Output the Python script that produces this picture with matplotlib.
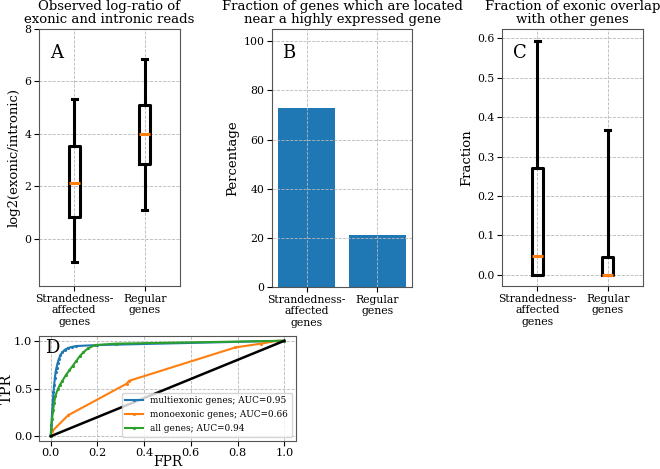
import numpy as np
import matplotlib
matplotlib.use("Agg")
import matplotlib.pyplot as plt

plt.rcParams['font.family'] = ['DejaVu Serif']

# --- data ---
groups = ['Strandedness-\naffected\ngenes', 'Regular\ngenes']

# panel A: log2(exonic/intronic) box stats (whislo, q1, med, q3, whishi)
ratio_stats = [[-0.87, 0.85, 2.13, 3.53, 5.33],
               [1.10, 2.85, 4.00, 5.10, 6.87]]

# panel B: percentage near a highly expressed gene
near_pct = [73.0, 21.0]

# panel C: fraction exonic overlap box stats
overlap_stats = [[0.0, 0.0, 0.048, 0.272, 0.592],
                 [0.0, 0.0, 0.0, 0.045, 0.366]]

# panel D: ROC curves
multi_fpr = [0.0, 0.003, 0.006, 0.009, 0.012, 0.015, 0.018, 0.021, 0.025, 0.03, 0.035,
             0.042, 0.05, 0.06, 0.075, 0.09, 0.11, 0.2, 1.0]
multi_tpr = [0.0, 0.12, 0.25, 0.36, 0.46, 0.54, 0.61, 0.67, 0.72, 0.77, 0.81,
             0.85, 0.88, 0.905, 0.925, 0.935, 0.945, 0.955, 1.0]
mono_fpr = [0.0, 0.005, 0.075, 0.325, 0.335, 0.79, 0.9, 0.97, 1.0]
mono_tpr = [0.0, 0.05, 0.22, 0.55, 0.58, 0.93, 0.97, 1.0, 1.0]
all_fpr = [0.0, 0.003, 0.006, 0.01, 0.015, 0.02, 0.03, 0.04, 0.05, 0.065, 0.08, 0.095,
           0.11, 0.125, 0.14, 0.16, 0.19, 0.28, 1.0]
all_tpr = [0.0, 0.08, 0.18, 0.27, 0.35, 0.42, 0.49, 0.54, 0.58, 0.64, 0.69, 0.74,
           0.79, 0.84, 0.88, 0.92, 0.955, 0.97, 1.0]
roc_labels = ['multiexonic genes; AUC=0.95', 'monoexonic genes; AUC=0.66', 'all genes; AUC=0.94']


def box_stats(rows):
    out = []
    for lo, q1, med, q3, hi in rows:
        out.append(dict(whislo=lo, q1=q1, med=med, q3=q3, whishi=hi, fliers=[]))
    return out


def draw_box(ax, rows):
    ax.bxp(box_stats(rows), positions=[1, 2], widths=0.15,
           boxprops=dict(color='black', linewidth=2.2),
           whiskerprops=dict(color='black', linewidth=2.2),
           capprops=dict(color='black', linewidth=2.2),
           medianprops=dict(color='#ff7f0e', linewidth=2.2))
    ax.set_xticks([1, 2])
    ax.set_xticklabels(groups)


def style(ax, size=7.8):
    ax.grid(True, linestyle='--', color='#b8b8b8', linewidth=0.6)
    ax.set_axisbelow(True)
    for s in ax.spines.values():
        s.set_color('#555555')
    ax.tick_params(labelsize=size, pad=2)


W, H = 660, 469
fig = plt.figure(figsize=(W / 100, H / 100), dpi=100)


def px_axes(l, t, r, b):
    return fig.add_axes([l / W, 1 - b / H, (r - l) / W, (b - t) / H])


TS = 9.5   # title size
LS = 9.5   # y label size
PS = 13    # panel letter size

# A
axA = px_axes(39, 29, 180, 286)
draw_box(axA, ratio_stats)
axA.set_ylim(-1.8, 8)
axA.set_yticks([0, 2, 4, 6, 8])
axA.set_xlim(0.5, 2.5)
axA.set_ylabel('log2(exonic/intronic)', fontsize=LS, labelpad=3)
axA.set_title('Observed log-ratio of\nexonic and intronic reads', fontsize=TS,
              linespacing=1.0, pad=4)
axA.text(0.08, 0.94, 'A', transform=axA.transAxes, fontsize=PS, va='top')
style(axA)

# B
axB = px_axes(272, 29, 412, 287)
axB.bar([0, 1], near_pct, width=0.8, color='#1f77b4')
axB.set_xticks([0, 1])
axB.set_xticklabels(groups)
axB.set_ylim(0, 105)
axB.set_ylabel('Percentage', fontsize=LS, labelpad=3)
axB.set_title('Fraction of genes which are located\nnear a highly expressed gene',
              fontsize=TS, linespacing=1.0, pad=4)
axB.text(0.07, 0.94, 'B', transform=axB.transAxes, fontsize=PS, va='top')
style(axB)
axB.set_axisbelow(False)

# C
axC = px_axes(502, 29, 643, 286)
draw_box(axC, overlap_stats)
axC.set_ylim(-0.028, 0.623)
axC.set_xlim(0.5, 2.5)
axC.set_ylabel('Fraction', fontsize=LS, labelpad=3)
axC.set_title('Fraction of exonic overlap\nwith other genes', fontsize=TS,
              linespacing=1.0, pad=4)
axC.text(0.08, 0.94, 'C', transform=axC.transAxes, fontsize=PS, va='top')
style(axC)

# D
axD = px_axes(39, 336, 296, 441)
axD.plot(multi_fpr, multi_tpr, '.-', color='#1f77b4', ms=2.5, lw=1.5, label=roc_labels[0])
axD.plot(mono_fpr, mono_tpr, '.-', color='#ff7f0e', ms=2.5, lw=1.5, label=roc_labels[1])
axD.plot(all_fpr, all_tpr, '.-', color='#2ca02c', ms=2.5, lw=1.5, label=roc_labels[2])
axD.plot([0, 1], [0, 1], color='black', lw=1.8)
style(axD, size=8.2)
axD.tick_params(pad=1.5)
axD.set_xlabel('FPR', fontsize=10, labelpad=-2)
axD.set_ylabel('TPR', fontsize=10.5, labelpad=0)
axD.legend(loc='lower right', fontsize=6.4, framealpha=0.8, borderpad=0.4,
           labelspacing=0.55, handlelength=2.0, borderaxespad=0.5)
axD.text(0.025, 0.97, 'D', transform=axD.transAxes, fontsize=PS, va='top')

fig.savefig('out.png', dpi=100)
